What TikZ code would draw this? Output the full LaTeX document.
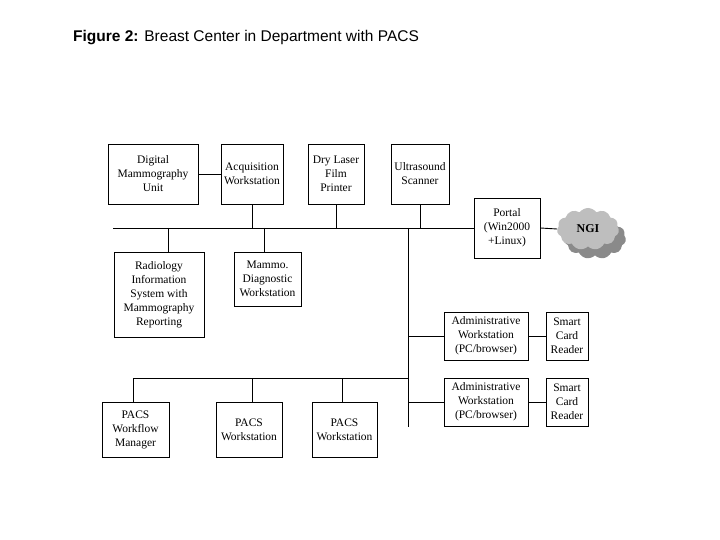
\documentclass[tikz,border=0pt]{standalone}
\usepackage{fontspec}
\setmainfont{Liberation Serif}
\newfontfamily\titlefont{Liberation Sans}
\usetikzlibrary{shapes.symbols,shadows}
\begin{document}
\begin{tikzpicture}[x=1pt,y=-1pt,
  box/.style={draw,line width=0.9pt,inner sep=0pt,align=center,
    font=\fontsize{11.5}{14}\selectfont},
  wire/.style={line width=0.9pt}]
\useasboundingbox[fill=white] (0,0) rectangle (720,540);
% title
\node[anchor=base west,inner sep=0pt,font=\titlefont\fontsize{15.5}{18}\selectfont] (title) at (73,42)
  {\textbf{Figure 2:} Breast Center in Department with PACS};
% top row
\node[box,minimum width=90,minimum height=60] (dmu) at (153,174) {Digital\\Mammography\\Unit};
\node[box,minimum width=62,minimum height=60] (acq) at (252,174) {Acquisition\\Workstation};
\node[box,minimum width=56,minimum height=60] (dry) at (336,174) {Dry Laser\\Film\\Printer};
\node[box,minimum width=58,minimum height=60] (us) at (420,174) {Ultrasound\\Scanner};
% portal and cloud
\node[box,minimum width=66,minimum height=60] (portal) at (507,228) {Portal\\(Win2000\\+Linux)};
\node[cloud,cloud puffs=11,cloud puff arc=110,aspect=1.6,inner sep=0pt,
  minimum width=62,minimum height=42,fill={rgb,255:red,190;green,190;blue,190},
  drop shadow={shadow xshift=7pt,shadow yshift=-9pt,opacity=1,
    fill={rgb,255:red,138;green,138;blue,138}},
  font=\bfseries\fontsize{12}{14}\selectfont] (ngi) at (588,229) {NGI};
% middle row
\node[box,minimum width=90,minimum height=85] (ris) at (159,294.5) {Radiology\\Information\\System with\\Mammography\\Reporting};
\node[box,minimum width=67,minimum height=54] (mammo) at (267.5,279) {Mammo.\\Diagnostic\\Workstation};
% admin
\node[box,minimum width=84,minimum height=48] (adm1) at (486,336) {Administrative\\Workstation\\(PC/browser)};
\node[box,minimum width=42,minimum height=48] (scr1) at (567,336) {Smart\\Card\\Reader};
\node[box,minimum width=84,minimum height=48] (adm2) at (486,402) {Administrative\\Workstation\\(PC/browser)};
\node[box,minimum width=42,minimum height=48] (scr2) at (567,402) {Smart\\Card\\Reader};
% bottom row
\node[box,minimum width=67,minimum height=55] (pwm) at (135.5,429.5) {PACS\\Workflow\\Manager};
\node[box,minimum width=66,minimum height=55] (pws1) at (249,429.5) {PACS\\Workstation};
\node[box,minimum width=65,minimum height=55] (pws2) at (344.5,429.5) {PACS\\Workstation};
% bus coordinates
\coordinate (busL) at (113,228);
\coordinate (tr) at (408,228);
\coordinate (trEnd) at (408,427);
\coordinate (risTap) at (168,228);
\coordinate (mamTap) at (264,228);
\coordinate (lowJ) at (408,378);
\coordinate (lowL) at (133,378);
\coordinate (pws1Tap) at (252,378);
\coordinate (pws2Tap) at (342,378);
% connectors
\draw[wire] (dmu.east) -- (acq.west);
\draw[wire] (busL) -- (portal.west);
\draw[wire] (portal.east) -- (ngi.west);
\draw[wire] (acq.south) -- (acq.south |- busL);
\draw[wire] (dry.south) -- (dry.south |- busL);
\draw[wire] (us.south) -- (us.south |- busL);
\draw[wire] (risTap) -- (risTap |- ris.north);
\draw[wire] (mamTap) -- (mamTap |- mammo.north);
\draw[wire] (tr) -- (trEnd);
\draw[wire] (tr |- adm1.west) -- (adm1.west);
\draw[wire] (tr |- adm2.west) -- (adm2.west);
\draw[wire] (adm1.east) -- (scr1.west);
\draw[wire] (adm2.east) -- (scr2.west);
\draw[wire] (lowL) -- (lowJ);
\draw[wire] (lowL) -- (lowL |- pwm.north);
\draw[wire] (pws1Tap) -- (pws1Tap |- pws1.north);
\draw[wire] (pws2Tap) -- (pws2Tap |- pws2.north);
\end{tikzpicture}
\end{document}
